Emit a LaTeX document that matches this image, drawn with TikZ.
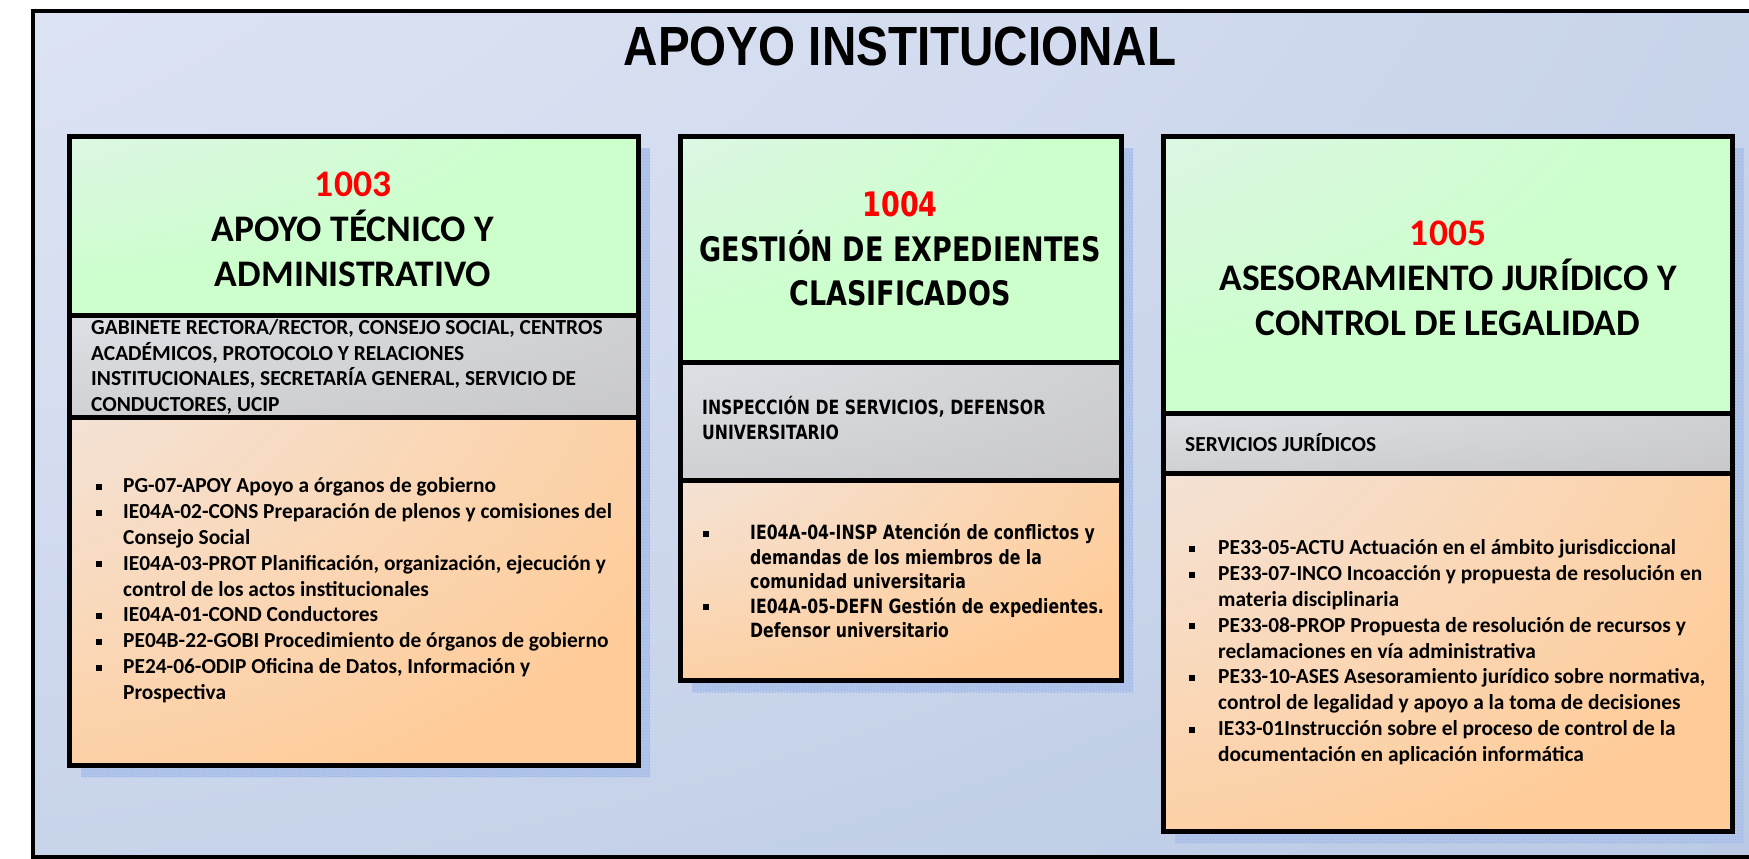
\documentclass[tikz,border=0pt]{standalone}
\usepackage{fontspec}
\setmainfont{Carlito}
\newfontfamily\ttlfont{Liberation Sans}
\newfontfamily\vdfont{DejaVu Sans}
\usetikzlibrary{patterns}
\definecolor{bgA}{HTML}{EBEEF8}
\definecolor{bgM}{HTML}{D2DBEF}
\definecolor{bgB}{HTML}{B8C9E3}
\definecolor{gA}{HTML}{ECEFF9}
\definecolor{gB}{HTML}{CCFFCC}
\definecolor{grA}{HTML}{E9EBF2}
\definecolor{grB}{HTML}{BEBEBE}
\definecolor{oA}{HTML}{EEF0FA}
\definecolor{oB}{HTML}{FFCC99}
\definecolor{shA}{HTML}{B3C6EB}
\definecolor{shB}{HTML}{95AEE0}
\definecolor{numred}{HTML}{FF0000}
\pgfdeclareradialshading{bgsh}{\pgfpoint{-50bp}{50bp}}{color(0bp)=(bgA); color(50bp)=(bgM); color(88bp)=(bgB); color(300bp)=(bgB)}
\pgfdeclareradialshading{grnsh}{\pgfpoint{-50bp}{50bp}}{color(0bp)=(gA); color(60bp)=(gB); color(300bp)=(gB)}
\pgfdeclareradialshading{grysh}{\pgfpoint{-50bp}{50bp}}{color(0bp)=(grA); color(110bp)=(grB); color(300bp)=(grB)}
\pgfdeclareradialshading{orgsh}{\pgfpoint{-50bp}{50bp}}{color(0bp)=(oA); color(75bp)=(oB); color(300bp)=(oB)}
\newcommand\blt{\raisebox{3pt}{\rule{6pt}{6pt}}}
\newcommand\vblt{\raisebox{2.4pt}{\rule{6pt}{4.8pt}}}
\newcommand\apbox[6]{%
  \fill[shA] (#1+12,#3+12) rectangle (#2+12,#6+12);
  \fill[pattern=crosshatch dots, pattern color=shB] (#1+12,#3+12) rectangle (#2+12,#6+12);
  \shade[shading=grnsh] (#1,#3) rectangle (#2,#4);
  \shade[shading=grysh] (#1,#4) rectangle (#2,#5);
  \shade[shading=orgsh] (#1,#5) rectangle (#2,#6);
  \draw[boxline] (#1,#4) -- (#2,#4) (#1,#5) -- (#2,#5);
  \draw[boxline] (#1,#3) rectangle (#2,#6);
}
\begin{document}
\begin{tikzpicture}[x=1pt,y={(0pt,-1pt)},
  boxline/.style={line width=5pt, line join=miter, black},
  frameline/.style={line width=4pt, black},
  ttl/.style={font=\ttlfont\bfseries\fontsize{47.6}{56}\selectfont, yscale=1.16, inner sep=0pt},
  cbhead/.style={align=center, inner sep=0pt, font=\bfseries\fontsize{37.5}{45}\selectfont},
  vbhead/.style={align=center, inner sep=0pt, yscale=1.25, font=\vdfont\bfseries\fontsize{27}{35.7}\selectfont},
  cbody/.style={align=left, inner sep=0pt, anchor=west, font=\bfseries\fontsize{21.4}{25.8}\selectfont},
  vbody/.style={align=left, inner sep=0pt, anchor=west, yscale=1.25, font=\vdfont\bfseries\fontsize{15.7}{19.6}\selectfont}
]
\useasboundingbox (0,0) rectangle (1749,859);
\fill[white] (0,0) rectangle (1749,859);
% outer frame
\shade[shading=bgsh] (33,11) rectangle (1749,857);
\draw[frameline] (1760,11) -- (33,11) -- (33,857) -- (1760,857);
\node[ttl] (title) at (900,46) {APOYO INSTITUCIONAL};

% box 1003
\apbox{69}{638}{136}{315}{417}{765}
\node[cbhead] (h1003) at (353,229) {{\color{numred}1003}\\APOYO TÉCNICO Y\\ADMINISTRATIVO};
\node[cbody] (g1003) at (91,367) {GABINETE RECTORA/RECTOR, CONSEJO SOCIAL, CENTROS\\ACADÉMICOS, PROTOCOLO Y RELACIONES\\INSTITUCIONALES, SECRETARÍA GENERAL, SERVICIO DE\\CONDUCTORES, UCIP};
\node[cbody] (l1003) at (96,591) {\begin{tabular}{@{}l@{}l@{}}
\makebox[27pt][l]{\blt} & PG-07-APOY Apoyo a órganos de gobierno\\
\makebox[27pt][l]{\blt} & IE04A-02-CONS Preparación de plenos y comisiones del\\
 & Consejo Social\\
\makebox[27pt][l]{\blt} & IE04A-03-PROT Planificación, organización, ejecución y\\
 & control de los actos institucionales\\
\makebox[27pt][l]{\blt} & IE04A-01-COND Conductores\\
\makebox[27pt][l]{\blt} & PE04B-22-GOBI Procedimiento de órganos de gobierno\\
\makebox[27pt][l]{\blt} & PE24-06-ODIP Oficina de Datos, Información y\\
 & Prospectiva
\end{tabular}};

% box 1004
\apbox{680}{1121}{136}{362}{480}{680}
\node[vbhead] (h1004) at (900,249) {{\color{numred}1004}\\GESTIÓN DE EXPEDIENTES\\CLASIFICADOS};
\node[vbody] (g1004) at (702,418) {INSPECCIÓN DE SERVICIOS, DEFENSOR\\UNIVERSITARIO};
\node[vbody] (l1004) at (703,584) {\begin{tabular}{@{}l@{}l@{}}
\makebox[47pt][l]{\vblt} & IE04A-04-INSP Atención de conflictos y\\
 & demandas de los miembros de la\\
 & comunidad universitaria\\
\makebox[47pt][l]{\vblt} & IE04A-05-DEFN Gestión de expedientes.\\
 & Defensor universitario
\end{tabular}};

% box 1005
\apbox{1163}{1732}{136}{413}{473}{831}
\node[cbhead] (h1005) at (1448,278) {{\color{numred}1005}\\ASESORAMIENTO JURÍDICO Y\\CONTROL DE LEGALIDAD};
\node[cbody] (g1005) at (1185,443) {SERVICIOS JURÍDICOS};
\node[cbody] (l1005) at (1189,653) {\begin{tabular}{@{}l@{}l@{}}
\makebox[29pt][l]{\blt} & PE33-05-ACTU Actuación en el ámbito jurisdiccional\\
\makebox[29pt][l]{\blt} & PE33-07-INCO Incoacción y propuesta de resolución en\\
 & materia disciplinaria\\
\makebox[29pt][l]{\blt} & PE33-08-PROP Propuesta de resolución de recursos y\\
 & reclamaciones en vía administrativa\\
\makebox[29pt][l]{\blt} & PE33-10-ASES Asesoramiento jurídico sobre normativa,\\
 & control de legalidad y apoyo a la toma de decisiones\\
\makebox[29pt][l]{\blt} & IE33-01Instrucción sobre el proceso de control de la\\
 & documentación en aplicación informática
\end{tabular}};
\end{tikzpicture}
\end{document}
